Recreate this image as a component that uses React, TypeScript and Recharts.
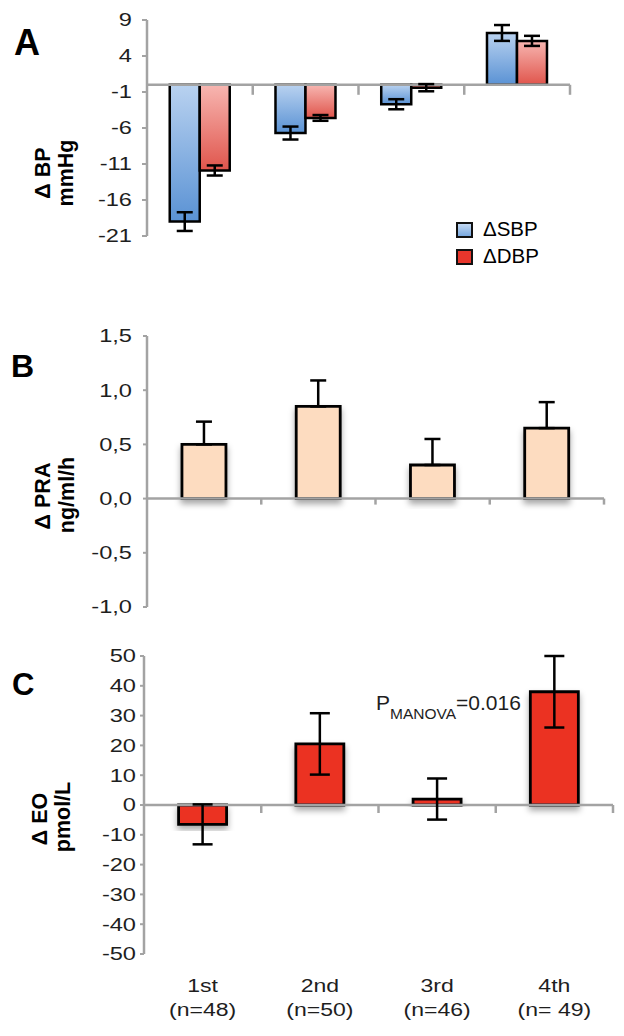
import React from 'react';
import { BarChart, Bar, XAxis, YAxis, ErrorBar, ReferenceLine, Legend, Rectangle } from 'recharts';

// ---------- data ----------
const categories = ['1st', '2nd', '3rd', '4th'];
const groupSizes = ['(n=48)', '(n=50)', '(n=46)', '(n= 49)'];

const sbpDelta = [-19.0, -6.7, -2.7, 7.2];
const sbpErr = [1.3, 0.9, 0.7, 1.1];
const dbpDelta = [-11.9, -4.6, -0.4, 6.1];
const dbpErr = [0.7, 0.4, 0.5, 0.7];

const praDelta = [0.5, 0.85, 0.31, 0.65];
const praErrUp = [0.21, 0.24, 0.24, 0.24];

const eoDelta = [-6.5, 20.5, 2.0, 38.0];
const eoErr = [6.7, 10.3, 6.9, 12.0];

const bpTicks = [9, 4, -1, -6, -11, -16, -21];
const praTicks = [1.5, 1.0, 0.5, 0, -0.5, -1.0];
const eoTicks = [50, 40, 30, 20, 10, 0, -10, -20, -30, -40, -50];

const seriesNames = ['\u0394SBP', '\u0394DBP'];

// ---------- styles ----------
const FONT = '"Liberation Sans", Arial, Helvetica, sans-serif';
const AXIS = '#a3a3a3';
const TEXT = '#1e1e1e';

const bpData = categories.map((c, i) => ({
  cat: c,
  sbp: sbpDelta[i],
  sbpErr: sbpErr[i],
  dbp: dbpDelta[i],
  dbpErr: dbpErr[i],
}));
const praData = categories.map((c, i) => ({ cat: c, pra: praDelta[i], praErr: [0, praErrUp[i]] }));
const eoData = categories.map((c, i) => ({ cat: c, eo: eoDelta[i], eoErr: eoErr[i] }));

const makeYTick = (fmt: (v: number) => string, sx: number, fs: number) => (p: any) => {
  const { x, y, payload } = p;
  return (
    <g transform={`translate(${x},${y})`}>
      <text transform={`scale(${sx},1)`} textAnchor="end" dy="0.36em" fontSize={fs} fill={TEXT} fontFamily={FONT}>
        {fmt(payload.value)}
      </text>
    </g>
  );
};

const XTick = (p: any) => {
  const { x, y, payload } = p;
  const i = categories.indexOf(payload.value);
  return (
    <g transform={`translate(${x},${y})`}>
      <text transform="scale(1.28,1)" textAnchor="middle" fontSize={18} fill={TEXT} fontFamily={FONT}>
        <tspan x={0} y={38}>{categories[i]}</tspan>
        <tspan x={0} y={62}>{groupSizes[i]}</tspan>
      </text>
    </g>
  );
};

const zeroAxisShape = (tickLen: number) => (p: any) => {
  const { x1, x2, y1 } = p;
  const n = categories.length;
  const step = (x2 - x1) / n;
  return (
    <g>
      <line x1={x1} x2={x2} y1={y1} y2={y1} stroke={AXIS} strokeWidth={2.5} />
      {categories.map((_, i) => (
        <line
          key={i}
          x1={x1 + step * (i + 1)}
          x2={x1 + step * (i + 1)}
          y1={y1}
          y2={y1 + tickLen}
          stroke={AXIS}
          strokeWidth={2.5}
        />
      ))}
    </g>
  );
};

const shadowShape = (id: string) => (p: any) => (
  <g filter={`url(#${id})`}>
    <Rectangle {...p} />
  </g>
);

const BpLegend = () => {
  const swatches = [
    { background: 'linear-gradient(#c3d9f3, #79a9e0)' },
    { background: '#e8362c' },
  ];
  return (
    <div style={{ fontFamily: FONT, color: '#000' }}>
      {seriesNames.map((n, i) => (
        <div key={i} style={{ display: 'flex', alignItems: 'center', height: 27 }}>
          <div
            style={{
              width: 17,
              height: 16,
              boxSizing: 'border-box',
              border: '2.5px solid #111',
              marginRight: 10,
              ...swatches[i],
            }}
          />
          <span style={{ fontSize: 20.5, lineHeight: 1 }}>{n}</span>
        </div>
      ))}
    </div>
  );
};

const fmtInt = (v: number) => String(v);
const fmtComma = (v: number) => v.toFixed(1).replace('.', ',');

export default function App() {
  return (
    <div style={{ position: 'absolute', left: 0, top: 0, width: 624, height: 1036, background: '#fff', overflow: 'hidden' }}>
      {/* Panel A */}
      <div style={{ position: 'absolute', left: 0, top: 0 }}>
        <BarChart
          width={624}
          height={310}
          data={bpData}
          margin={{ top: 20, right: 54, bottom: 20, left: 87 }}
          barCategoryGap="21.5%"
          barGap={0}
        >
          <defs>
            <linearGradient id="gradSBP" x1="0" y1="0" x2="0" y2="1">
              <stop offset="0%" stopColor="#b9d2f0" />
              <stop offset="100%" stopColor="#5a92d4" />
            </linearGradient>
            <linearGradient id="gradDBP" x1="0" y1="0" x2="0" y2="1">
              <stop offset="0%" stopColor="#f7b6b1" />
              <stop offset="100%" stopColor="#e0554c" />
            </linearGradient>
          </defs>
          <XAxis dataKey="cat" hide />
          <YAxis
            type="number"
            domain={[-21, 9]}
            ticks={bpTicks}
            interval={0}
            width={60}
            axisLine={{ stroke: AXIS, strokeWidth: 2.5 }}
            tickLine={{ stroke: AXIS, strokeWidth: 2 }}
            tickSize={5}
            tickMargin={10}
            tick={makeYTick(fmtInt, 1.35, 17.5)}
            allowDataOverflow
          />
          <ReferenceLine y={0} stroke={AXIS} shape={zeroAxisShape(10)} />
          <Bar dataKey="sbp" name={seriesNames[0]} fill="url(#gradSBP)" stroke="#000" strokeWidth={2.5} isAnimationActive={false}>
            <ErrorBar dataKey="sbpErr" width={8} stroke="#000" strokeWidth={2.5} direction="y" />
          </Bar>
          <Bar dataKey="dbp" name={seriesNames[1]} fill="url(#gradDBP)" stroke="#000" strokeWidth={2.5} isAnimationActive={false}>
            <ErrorBar dataKey="dbpErr" width={8} stroke="#000" strokeWidth={2.5} direction="y" />
          </Bar>
          <Legend
            content={<BpLegend />}
            wrapperStyle={{ position: 'absolute', left: 456, top: 216, width: 140, bottom: 'auto' }}
          />
        </BarChart>
      </div>

      {/* Panel B */}
      <div style={{ position: 'absolute', left: 0, top: 320 }}>
        <BarChart
          width={624}
          height={300}
          data={praData}
          margin={{ top: 16, right: 20, bottom: 13, left: 87 }}
          barCategoryGap="30.6%"
        >
          <defs>
            <filter id="shadowB" x="-30%" y="-30%" width="160%" height="160%">
              <feDropShadow dx="0" dy="4" stdDeviation="3" floodColor="#000" floodOpacity="0.35" />
            </filter>
          </defs>
          <XAxis dataKey="cat" hide />
          <YAxis
            type="number"
            domain={[-1, 1.5]}
            ticks={praTicks}
            interval={0}
            width={60}
            axisLine={{ stroke: AXIS, strokeWidth: 2.5 }}
            tickLine={{ stroke: AXIS, strokeWidth: 2 }}
            tickSize={4}
            tickMargin={11}
            tick={makeYTick(fmtComma, 1.35, 17.5)}
            allowDataOverflow
          />
          <ReferenceLine y={0} stroke={AXIS} shape={zeroAxisShape(6)} />
          <Bar
            dataKey="pra"
            name={'\u0394 PRA'}
            fill="#fddcc0"
            stroke="#000"
            strokeWidth={2.8}
            isAnimationActive={false}
            shape={shadowShape('shadowB')}
          >
            <ErrorBar dataKey="praErr" width={8} stroke="#000" strokeWidth={2.5} direction="y" />
          </Bar>
        </BarChart>
      </div>

      {/* Panel C */}
      <div style={{ position: 'absolute', left: 0, top: 630 }}>
        <BarChart
          width={624}
          height={406}
          data={eoData}
          margin={{ top: 26, right: 11, bottom: 0, left: 84 }}
          barCategoryGap="29.5%"
        >
          <defs>
            <filter id="shadowC" x="-30%" y="-30%" width="160%" height="160%">
              <feDropShadow dx="0" dy="4" stdDeviation="3" floodColor="#000" floodOpacity="0.35" />
            </filter>
          </defs>
          <XAxis
            dataKey="cat"
            axisLine={false}
            tickLine={false}
            tickSize={0}
            tickMargin={0}
            height={82}
            interval={0}
            tick={XTick}
          />
          <YAxis
            type="number"
            domain={[-50, 50]}
            ticks={eoTicks}
            interval={0}
            width={60}
            axisLine={{ stroke: AXIS, strokeWidth: 2.5 }}
            tickLine={{ stroke: AXIS, strokeWidth: 2 }}
            tickSize={4}
            tickMargin={4}
            tick={makeYTick(fmtInt, 1.35, 17.5)}
            allowDataOverflow
          />
          <ReferenceLine y={0} stroke={AXIS} shape={zeroAxisShape(8)} />
          <Bar
            dataKey="eo"
            name={'\u0394 EO'}
            fill="#eb3324"
            stroke="#000"
            strokeWidth={2.8}
            isAnimationActive={false}
            shape={shadowShape('shadowC')}
          >
            <ErrorBar dataKey="eoErr" width={10} stroke="#000" strokeWidth={2.5} direction="y" />
          </Bar>
        </BarChart>
      </div>

      {/* Overlay text: panel letters, axis titles, annotation */}
      <svg width={624} height={1036} style={{ position: 'absolute', left: 0, top: 0, pointerEvents: 'none' }}>
        <g fontFamily={FONT} fill="#000" fontWeight="bold">
          <text x={14} y={55} fontSize={36}>A</text>
          <text x={11} y={377} fontSize={32}>B</text>
          <text x={12} y={695} fontSize={31}>C</text>

          <text transform="translate(50,173) rotate(-90)" textAnchor="middle" fontSize={21.5}>{'\u0394 BP'}</text>
          <text transform="translate(73,173) rotate(-90)" textAnchor="middle" fontSize={21.5}>mmHg</text>

          <text transform="translate(50,496) rotate(-90)" textAnchor="middle" fontSize={21.5}>{'\u0394 PRA'}</text>
          <text transform="translate(74,495) rotate(-90)" textAnchor="middle" fontSize={21.5}>ng/ml/h</text>

          <text transform="translate(47,819) rotate(-90)" textAnchor="middle" fontSize={21.5}>{'\u0394 EO'}</text>
          <text transform="translate(70,817) rotate(-90)" textAnchor="middle" fontSize={21.5}>pmol/L</text>
        </g>
        <text x={376} y={710} fontFamily={FONT} fontSize={21} fill={TEXT}>
          P<tspan fontSize={15.5} dy={9}>MANOVA</tspan>
          <tspan dy={-9}>=0.016</tspan>
        </text>
      </svg>
    </div>
  );
}
